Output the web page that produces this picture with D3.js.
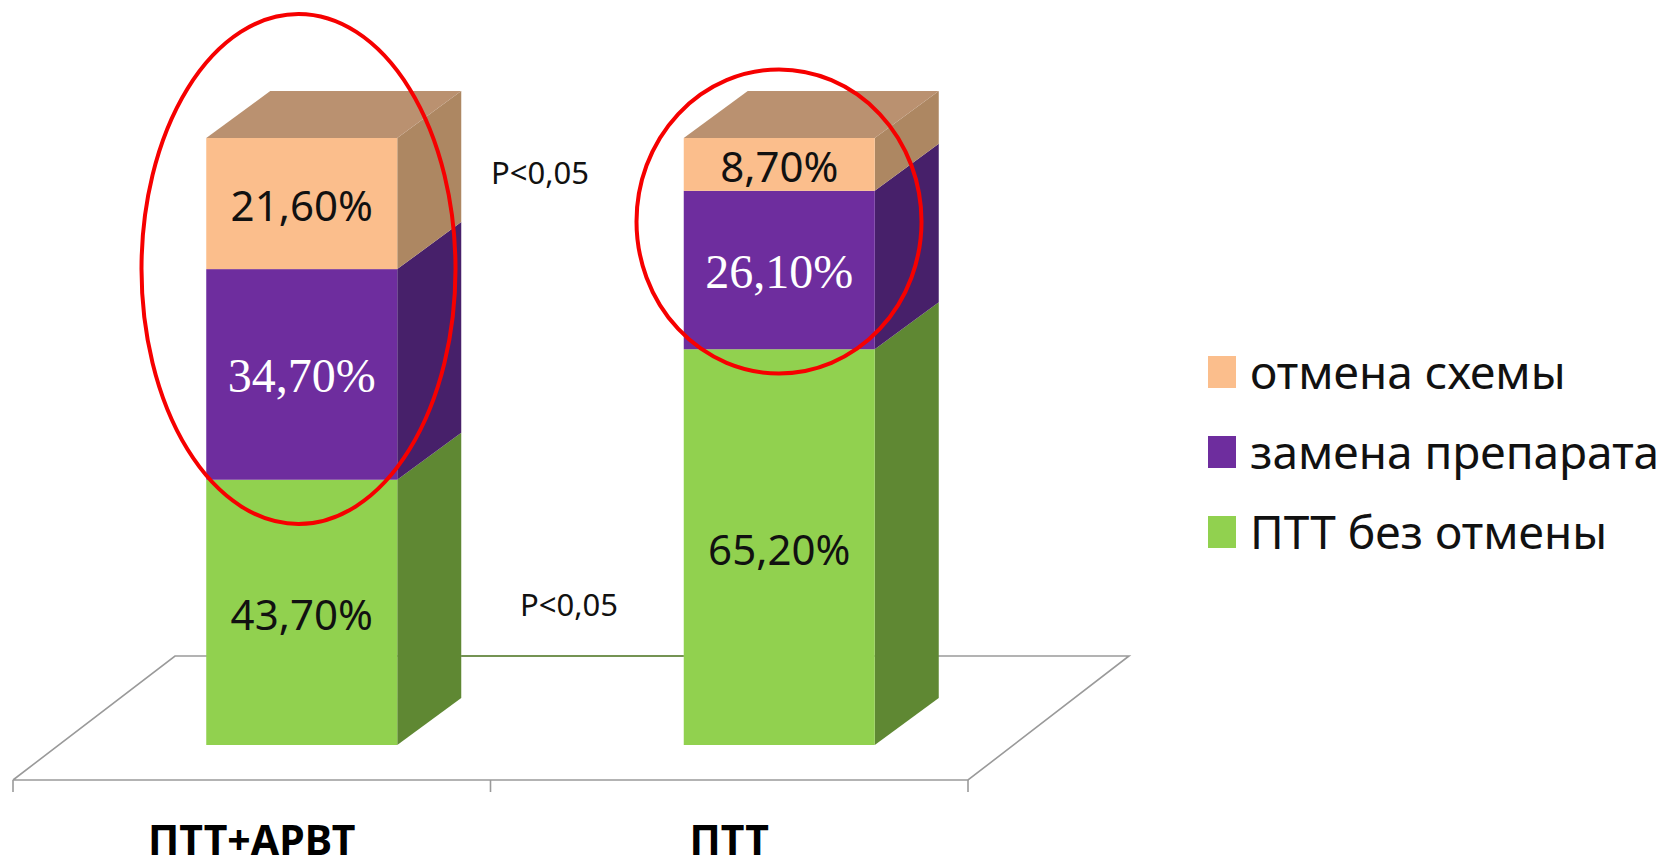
<!DOCTYPE html>
<html lang="ru">
<head>
<meta charset="utf-8">
<title>Исходы ПТТ</title>
<script src="https://cdn.jsdelivr.net/npm/d3@7"></script>
<style>
html,body{margin:0;padding:0;background:#fff;overflow:hidden}
svg{display:block}
</style>
</head>
<body>
<svg id="chart" width="1666" height="857"></svg>
<script>
// Stacked 3D columns: outcome shares per treatment group
const categories = ["ПТТ+АРВТ", "ПТТ"];
const seriesNames = ["ПТТ без отмены", "замена препарата", "отмена схемы"];
const keptValues = [43.7, 65.2];
const replacedValues = [34.7, 26.1];
const cancelledValues = [21.6, 8.7];
const pLabels = ["P<0,05", "P<0,05"];

const frontColors = ["#91d14f", "#6e2d9e", "#fbbe8c"];
const sideColors = ["#5f8833", "#47206a", "#ad8762"];
const topColor = "#ba9170";
const labelColors = ["#111", "#fff", "#111"];
const labelFonts = ["'Noto Sans', sans-serif", "'Liberation Serif', serif", "'Noto Sans', sans-serif"];

const svg = d3.select("#chart");

const x = d3.scaleBand().domain(categories).range([13, 968]);
const y = d3.scaleLinear().domain([0, 100]).range([745, 138]);
const columnWidth = 191;
const columnShift = 50;          // front face sits right of the band centre on the floor
const depthX = 64, depthY = 47;  // oblique projection of the column depth

const stack = d3.stack().keys([0, 1, 2]).value((row, k) => row[k]);
const rows = categories.map((_, i) => [keptValues[i], replacedValues[i], cancelledValues[i]]);
const layers = stack(rows);

const columnLeft = i => x(categories[i]) + x.bandwidth() / 2 + columnShift - columnWidth / 2;
const line = d3.line();

// Floor plane
const floor = svg.append("g").attr("fill", "none").attr("stroke", "#9a9a9a").attr("stroke-width", 1.6);
const floorBackY = 656, floorFrontY = 780;
floor.append("path").attr("d", line([[13, floorFrontY], [175, floorBackY], [1129, floorBackY], [968, floorFrontY], [13, floorFrontY]]));
floor.append("path").attr("stroke", "#5f8833")
  .attr("d", line([[x(categories[0]) + x.bandwidth() / 2 + columnShift + columnWidth / 2 + depthX, floorBackY],
                   [columnLeft(1), floorBackY]]));
floor.selectAll("line.tick")
  .data([13, x(categories[1]), 968])
  .join("line").attr("class", "tick")
  .attr("x1", d => d).attr("x2", d => d)
  .attr("y1", floorFrontY).attr("y2", floorFrontY + 12);

// Columns
categories.forEach((cat, i) => {
  const g = svg.append("g");
  const left = columnLeft(i), right = left + columnWidth;
  layers.forEach((layer, k) => {
    const y0 = y(layer[i][0]), y1 = y(layer[i][1]);
    g.append("path").attr("fill", sideColors[k])
      .attr("d", line([[right, y0], [right, y1], [right + depthX, y1 - depthY], [right + depthX, y0 - depthY]]) + "Z");
    g.append("rect").attr("fill", frontColors[k])
      .attr("x", left).attr("y", y1).attr("width", columnWidth).attr("height", y0 - y1);
  });
  const top = y(100);
  g.append("path").attr("fill", topColor)
    .attr("d", line([[left, top], [right, top], [right + depthX, top - depthY], [left + depthX, top - depthY]]) + "Z");
});

// Value labels
categories.forEach((cat, i) => {
  layers.forEach((layer, k) => {
    const val = layer[i][1] - layer[i][0];
    svg.append("text")
      .attr("x", columnLeft(i) + columnWidth / 2)
      .attr("y", y((layer[i][0] + layer[i][1]) / 2) + 1)
      .attr("text-anchor", "middle").attr("dominant-baseline", "central")
      .attr("fill", labelColors[k])
      .attr("font-family", labelFonts[k])
      .attr("font-size", k === 1 ? 48 : 42)
      .text(val.toFixed(2).replace(".", ",") + "%");
  });
});

// Significance notes
[[491, 184], [520, 616]].forEach((p, i) => {
  svg.append("text").attr("x", p[0]).attr("y", p[1])
    .attr("font-family", "'Noto Sans', sans-serif").attr("font-size", 31).attr("fill", "#111")
    .text(pLabels[i]);
});

// Highlight ellipses
svg.selectAll("ellipse")
  .data([{cx: 298.5, cy: 269, rx: 157, ry: 255}, {cx: 779, cy: 221.5, rx: 142.5, ry: 152}])
  .join("ellipse")
  .attr("cx", d => d.cx).attr("cy", d => d.cy).attr("rx", d => d.rx).attr("ry", d => d.ry)
  .attr("fill", "none").attr("stroke", "#f60000").attr("stroke-width", 4);

// Category labels
svg.selectAll("text.cat")
  .data(categories)
  .join("text").attr("class", "cat")
  .attr("x", d => x(d) + x.bandwidth() / 2).attr("y", 855)
  .attr("text-anchor", "middle")
  .attr("font-family", "'Noto Sans', sans-serif").attr("font-weight", 700).attr("font-size", 41)
  .attr("fill", "#000")
  .text(d => d);

// Legend
const legendOrder = [2, 1, 0];
const legend = svg.selectAll("g.legend")
  .data(legendOrder)
  .join("g").attr("class", "legend")
  .attr("transform", (d, i) => `translate(1208,${356 + i * 80})`);
legend.append("rect").attr("width", 28).attr("height", 32).attr("fill", d => frontColors[d]);
legend.append("text").attr("x", 42).attr("y", 33)
  .attr("font-family", "'Noto Sans', sans-serif").attr("font-size", 46).attr("fill", "#111")
  .text(d => seriesNames[d]);
</script>
</body>
</html>
